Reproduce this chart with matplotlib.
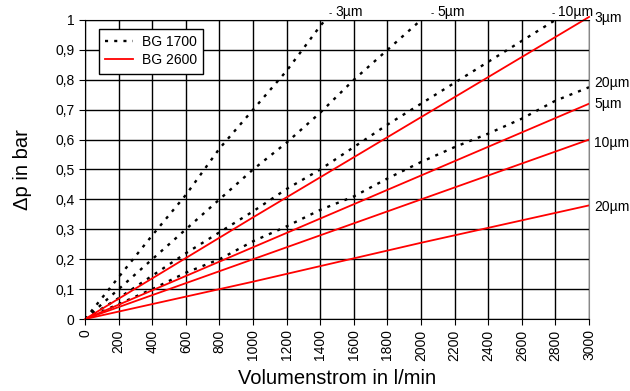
import matplotlib
matplotlib.use("Agg")
import matplotlib.pyplot as plt
from matplotlib.ticker import FuncFormatter

plt.rcParams['font.family'] = ['Liberation Sans', 'DejaVu Sans']

# BG 1700 (dotted black)
bg1700_x_3 = [0, 200, 400, 600, 800, 1000, 1200, 1400, 1430]
bg1700_y_3 = [0, 0.14, 0.28, 0.415, 0.57, 0.70, 0.83, 0.98, 1.0]
bg1700_x_5 = [0, 200, 400, 600, 800, 1000, 1200, 1400, 1600, 1800, 2000]
bg1700_y_5 = [0, 0.10, 0.20, 0.30, 0.40, 0.50, 0.59, 0.69, 0.80, 0.90, 1.0]
bg1700_x_10 = [0, 200, 400, 600, 800, 1000, 1200, 1400, 1600, 1800, 2000,
               2200, 2400, 2600, 2800]
bg1700_y_10 = [0, 0.07, 0.145, 0.22, 0.29, 0.36, 0.435, 0.50, 0.575, 0.65,
               0.72, 0.79, 0.86, 0.93, 1.0]
bg1700_x_20 = [0, 200, 400, 600, 800, 1000, 1200, 1400, 1600, 1800, 2000,
               2200, 2400, 2600, 2800, 3000]
bg1700_y_20 = [0, 0.05, 0.10, 0.155, 0.20, 0.26, 0.31, 0.365, 0.41, 0.47,
               0.525, 0.575, 0.62, 0.67, 0.73, 0.775]

# BG 2600 (red)
bg2600_x = [0, 1000, 2000, 3000]
bg2600_y_3 = [0, 0.34, 0.675, 1.01]
bg2600_y_5 = [0, 0.24, 0.48, 0.72]
bg2600_y_10 = [0, 0.20, 0.40, 0.60]
bg2600_y_20 = [0, 0.125, 0.255, 0.38]

x_ticks = list(range(0, 3001, 200))
y_ticks = [i / 10 for i in range(11)]

top_labels = [(1488, "3µm"), (2095, "5µm"), (2815, "10µm")]
right_labels = [(1.007, "3µm"), (0.789, "20µm"), (0.719, "5µm"),
                (0.589, "10µm"), (0.375, "20µm")]

fig = plt.figure(figsize=(6.3, 3.91), dpi=100)
ax = fig.add_axes([0.135, 0.184, 0.8, 0.765])

dot = (0, (1.3, 2.6))
ax.plot(bg1700_x_3, bg1700_y_3, color='black', lw=1.7, ls=dot, label='BG 1700')
ax.plot(bg1700_x_5, bg1700_y_5, color='black', lw=1.7, ls=dot)
ax.plot(bg1700_x_10, bg1700_y_10, color='black', lw=1.7, ls=dot)
ax.plot(bg1700_x_20, bg1700_y_20, color='black', lw=1.7, ls=dot)

ax.plot(bg2600_x, bg2600_y_3, color='red', lw=1.3, label='BG 2600', clip_on=False)
ax.plot(bg2600_x, bg2600_y_5, color='red', lw=1.3)
ax.plot(bg2600_x, bg2600_y_10, color='red', lw=1.3)
ax.plot(bg2600_x, bg2600_y_20, color='red', lw=1.3)

ax.set_xlim(0, 3000)
ax.set_ylim(0, 1)
ax.set_xticks(x_ticks)
ax.set_yticks(y_ticks)
ax.yaxis.set_major_formatter(FuncFormatter(lambda v, p: f"{v:g}".replace('.', ',')))
ax.tick_params(axis='x', labelrotation=90, labelsize=10, length=4, direction='out')
ax.tick_params(axis='y', labelsize=10, length=4, direction='out')
ax.grid(True, color='black', lw=1)
ax.set_axisbelow(True)
for s in ['left', 'bottom', 'top']:
    ax.spines[s].set_color('black')
ax.spines['right'].set_color('#888888')

for xv, t in top_labels:
    ax.text(xv, 1.027, t, fontsize=10, ha='left', va='center')
    ax.text(xv - 38, 1.022, "-", fontsize=7, ha='left', va='center')
for yv, t in right_labels:
    ax.text(3030, yv, t, fontsize=10, ha='left', va='center')

ax.set_xlabel("Volumenstrom in l/min", fontsize=14.5, labelpad=6)
ax.set_ylabel("Δp in bar", fontsize=14.5, labelpad=17)

leg = ax.legend(loc='upper left', bbox_to_anchor=(0.028, 0.97), fontsize=10,
                fancybox=False, edgecolor='black', framealpha=1,
                borderaxespad=0, handlelength=2.0, handletextpad=0.6,
                borderpad=0.45, labelspacing=0.3)
leg.get_frame().set_linewidth(1)

fig.savefig("out.png", dpi=100)
